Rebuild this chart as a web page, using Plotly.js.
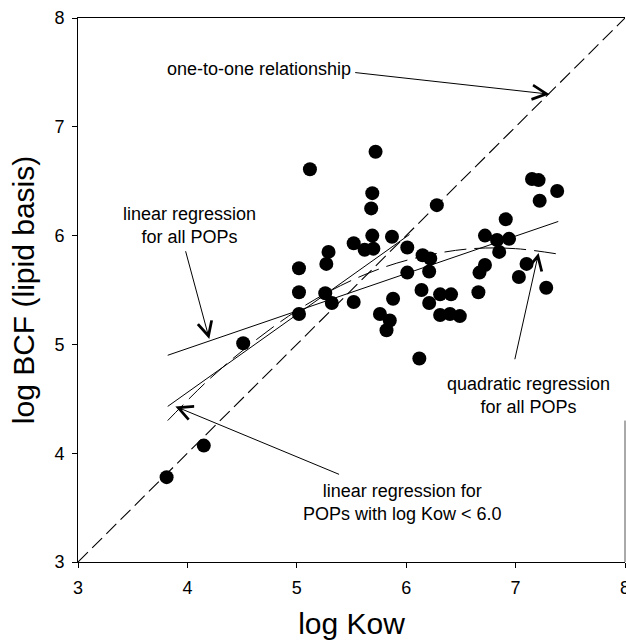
<!DOCTYPE html>
<html>
<head>
<meta charset="utf-8">
<script src="https://cdn.plot.ly/plotly-3.0.1.min.js"></script>
<style>html,body{margin:0;padding:0;background:#fff;}#chart{width:626px;height:640px;}</style>
</head>
<body>
<div id="chart"></div>
<script>
// Observed POPs: log Kow vs log BCF (lipid basis)
const logKow = [3.81, 4.15, 4.51,
  5.02, 5.02, 5.02,
  5.12, 5.29, 5.27, 5.26, 5.32,
  5.52, 5.52, 5.62, 5.70, 5.69, 5.68, 5.69, 5.72,
  5.87, 5.88, 5.76, 5.85, 5.82,
  6.01, 6.01, 6.28, 6.15, 6.22, 6.21, 6.14, 6.21, 6.12,
  6.31, 6.41, 6.31, 6.40, 6.49,
  6.66, 6.67, 6.72, 6.72, 6.83, 6.85, 6.94, 6.91,
  7.03, 7.10, 7.28, 7.15, 7.21, 7.22, 7.38];
const logBCF = [3.78, 4.07, 5.01,
  5.70, 5.48, 5.28,
  6.61, 5.85, 5.74, 5.47, 5.38,
  5.93, 5.39, 5.87, 5.88, 6.00, 6.25, 6.39, 6.77,
  5.99, 5.42, 5.28, 5.22, 5.13,
  5.89, 5.66, 6.28, 5.82, 5.79, 5.67, 5.50, 5.38, 4.87,
  5.46, 5.46, 5.27, 5.28, 5.26,
  5.48, 5.66, 5.73, 6.00, 5.96, 5.85, 5.97, 6.15,
  5.62, 5.74, 5.52, 6.52, 6.51, 6.32, 6.41];

// Reference / regression lines
const oneToOneX = [3, 8];
const oneToOneY = [3, 8];
const linAllX = [3.82, 7.39];
const linAllY = [4.90, 6.13];
const linLowX = [3.82, 6.03];
const linLowY = [4.43, 6.01];
const quadX = [3.82, 4.2, 4.6, 5.0, 5.4, 5.8, 6.2, 6.6, 7.0, 7.39];
const quadY = [4.30, 4.68, 5.02, 5.31, 5.54, 5.71, 5.82, 5.88, 5.88, 5.83];

// Tick labels
const tickVals = [3, 4, 5, 6, 7, 8];
const tickText = ['3', '4', '5', '6', '7', '8'];

// Annotation labels
const labelOneToOne = 'one-to-one relationship';
const labelLinAll = 'linear regression<br>for all POPs';
const labelQuad = 'quadratic regression<br>for all POPs';
const labelLinLow = 'linear regression for<br>POPs with log Kow &lt; 6.0';

const FONT = 'Arial, "Liberation Sans", sans-serif';

const traces = [
  {x: oneToOneX, y: oneToOneY, mode: 'lines', line: {color: '#000', width: 1.1, dash: '14px,6px'}, hoverinfo: 'skip'},
  {x: linAllX, y: linAllY, mode: 'lines', line: {color: '#000', width: 1}, hoverinfo: 'skip'},
  {x: linLowX, y: linLowY, mode: 'lines', line: {color: '#000', width: 1}, hoverinfo: 'skip'},
  {x: quadX, y: quadY, mode: 'lines', line: {color: '#000', width: 1, dash: '22px,8px', shape: 'spline'}, hoverinfo: 'skip'},
  {x: logKow, y: logBCF, mode: 'markers', marker: {color: '#000', size: 14, line: {width: 0}}}
];

function arrow(tailX, tailY, tipX, tipY) {
  return {x: tipX, y: tipY, ax: tailX, ay: tailY, xref: 'x', yref: 'y', axref: 'x', ayref: 'y',
    text: '', showarrow: true, arrowhead: 5, arrowsize: 2.8, arrowwidth: 1, arrowcolor: '#000'};
}
function label(x, y, text) {
  return {x: x, y: y, xref: 'x', yref: 'y', text: text, showarrow: false,
    font: {family: FONT, size: 18, color: '#000'}, align: 'center'};
}

const layout = {
  width: 626, height: 640,
  margin: {l: 78, r: 1, t: 18, b: 78},
  paper_bgcolor: '#fff', plot_bgcolor: '#fff',
  showlegend: false,
  font: {family: FONT, color: '#000'},
  xaxis: {
    range: [3, 8], tickvals: tickVals, ticktext: tickText,
    ticks: 'outside', ticklen: 5, tickwidth: 1, tickcolor: '#000',
    showline: true, linecolor: '#000', linewidth: 1, mirror: true,
    showgrid: false, zeroline: false,
    tickfont: {family: FONT, size: 18, color: '#000'},
    ticklabelstandoff: 4, ticklabeloverflow: 'allow',
    title: {text: 'log Kow', font: {family: FONT, size: 30, color: '#000'}, standoff: 16}
  },
  yaxis: {
    range: [3, 8], tickvals: tickVals, ticktext: tickText,
    ticks: 'outside', ticklen: 5, tickwidth: 1, tickcolor: '#000',
    showline: true, linecolor: '#000', linewidth: 1,
    showgrid: false, zeroline: false,
    tickfont: {family: FONT, size: 18, color: '#000'},
    ticklabelstandoff: 4, ticklabeloverflow: 'allow',
    title: {text: 'log BCF (lipid basis)', font: {family: FONT, size: 30, color: '#000'}, standoff: 10}
  },
  shapes: [
    {type: 'line', xref: 'paper', yref: 'paper', x0: 1, x1: 1, y0: 0, y1: 0.26, line: {color: '#555', width: 1}}
  ],
  annotations: [
    label(4.65, 7.53, labelOneToOne),
    arrow(5.52, 7.50, 7.31, 7.30),
    label(4.02, 6.09, labelLinAll),
    arrow(3.98, 5.87, 4.20, 5.05),
    label(7.12, 4.53, labelQuad),
    arrow(6.99, 4.85, 7.21, 5.84),
    label(5.97, 3.55, labelLinLow),
    arrow(5.40, 3.80, 3.89, 4.43)
  ]
};

Plotly.newPlot('chart', traces, layout, {displayModeBar: false, staticPlot: true});
</script>
</body>
</html>
